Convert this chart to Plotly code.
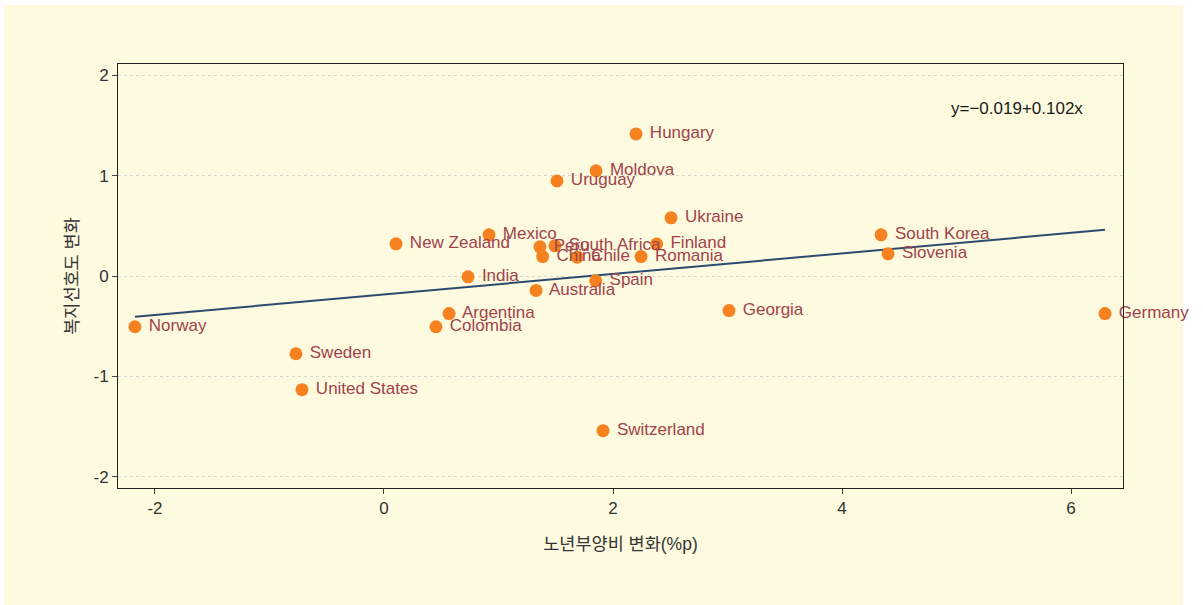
import plotly.graph_objects as go

# 국가별 노년부양비 변화(%p) vs 복지선호도 변화
COUNTRIES = [
    "Norway", "Sweden", "United States", "New Zealand", "India", "Mexico",
    "Argentina", "Colombia", "Peru", "South Africa", "China", "Chile",
    "Romania", "Finland", "Spain", "Australia", "Ukraine", "Hungary",
    "Moldova", "Uruguay", "South Korea", "Slovenia", "Georgia", "Germany",
    "Switzerland",
]
DEP_CHANGE = [
    -2.175, -0.769, -0.716, 0.105, 0.734, 0.917,
    0.568, 0.454, 1.362, 1.493, 1.386, 1.688,
    2.245, 2.381, 1.849, 1.328, 2.507, 2.201,
    1.852, 1.511, 4.341, 4.402, 3.013, 6.297,
    1.913,
]
WELFARE_CHANGE = [
    -0.506, -0.775, -1.133, 0.321, -0.008, 0.410,
    -0.375, -0.506, 0.291, 0.301, 0.194, 0.188,
    0.194, 0.318, -0.048, -0.144, 0.580, 1.416,
    1.048, 0.948, 0.410, 0.221, -0.345, -0.375,
    -1.542,
]

# fitted line as drawn (endpoints at min / max x)
FIT_X = [-2.175, 6.297]
FIT_Y = [-0.406, 0.460]
FIT_LABEL = "y=\u22120.019+0.102x"

X_TICKS = [-2, 0, 2, 4, 6]
Y_TICKS = [-2, -1, 0, 1, 2]

BG = "#FEFADF"
DOT = "#F5821F"
LABEL = "#A0434C"
LINE = "#2C4A70"
TEXT = "#333333"
FONT = "Liberation Sans, Arial, Noto Sans CJK KR"

fig = go.Figure()

fig.add_trace(go.Scatter(
    x=FIT_X, y=FIT_Y, mode="lines",
    line=dict(color=LINE, width=2), hoverinfo="skip", showlegend=False,
))
fig.add_trace(go.Scatter(
    x=DEP_CHANGE, y=WELFARE_CHANGE, mode="markers+text",
    text=[" " + c for c in COUNTRIES], textposition="middle right",
    textfont=dict(color=LABEL, size=17, family=FONT),
    marker=dict(color=DOT, size=13),
    cliponaxis=False, showlegend=False,
))

# yellow panel behind everything
fig.add_shape(
    type="rect", xref="paper", yref="paper", layer="below",
    x0=-0.1134, x1=1.0597, y0=-0.28, y1=1.139,
    fillcolor=BG, line=dict(width=0),
)

fig.add_annotation(
    text=FIT_LABEL, xref="paper", yref="paper", x=0.962, y=0.894,
    xanchor="right", yanchor="middle", showarrow=False,
    font=dict(size=17, color="#1a1a1a", family=FONT),
)

fig.update_layout(
    width=1203, height=605,
    margin=dict(l=118, r=80, t=64, b=117),
    paper_bgcolor="white", plot_bgcolor="rgba(0,0,0,0)",
    font=dict(family=FONT, color=TEXT, size=16),
)
fig.update_xaxes(
    range=[-2.323, 6.454], tickvals=X_TICKS, ticktext=[str(v) for v in X_TICKS],
    showgrid=False, zeroline=False,
    showline=True, linecolor="#222222", linewidth=1, mirror=True,
    ticks="outside", ticklen=5, tickcolor="#444444",
    tickfont=dict(size=17, color=TEXT),
    title=dict(text="노년부양비 변화(%p)", font=dict(size=17.5, color=TEXT), standoff=20),
)
fig.update_yaxes(
    range=[-2.113, 2.113], tickvals=Y_TICKS, ticktext=[str(v) for v in Y_TICKS],
    showgrid=True, gridcolor="#D6D6CE", griddash="3px,3px", gridwidth=1,
    zeroline=False,
    showline=True, linecolor="#222222", linewidth=1, mirror=True,
    ticks="outside", ticklen=5, tickcolor="#444444",
    tickfont=dict(size=17, color=TEXT),
    title=dict(text="복지선호도 변화", font=dict(size=17.5, color=TEXT), standoff=10),
)

fig.write_html(
    "out.html",
    config={"displayModeBar": False},
    post_script="document.body.style.margin='0';",
)
